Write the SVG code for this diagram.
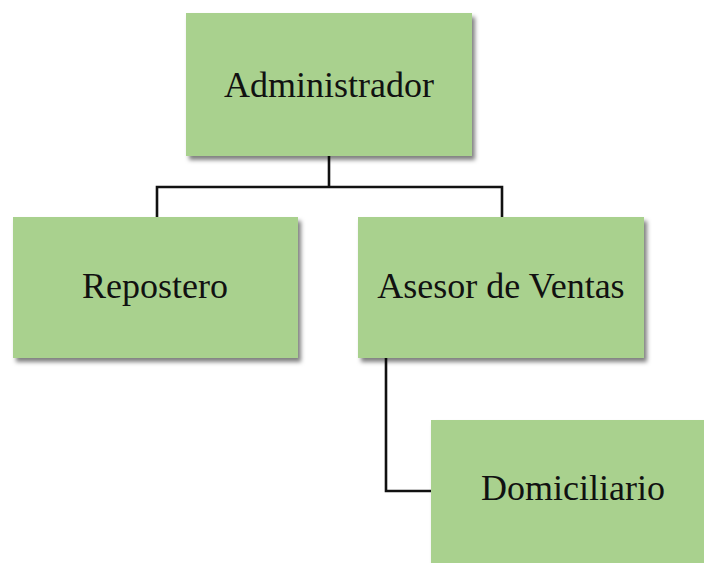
<svg xmlns="http://www.w3.org/2000/svg" width="704" height="563" viewBox="0 0 704 563">
  <style>
    .box { fill: #A9D18E; filter: url(#shadow); }
    .lbl { font-family: "Liberation Serif", "Times New Roman", serif; font-size: 36px; fill: #111; text-anchor: middle; }
    .conn { fill: none; stroke: #111; stroke-width: 2.6; }
  </style>
  <defs>
    <filter id="shadow" x="-10%" y="-10%" width="130%" height="130%">
      <feDropShadow dx="3" dy="4" stdDeviation="2.2" flood-color="#000" flood-opacity="0.5"/>
    </filter>
  </defs>
  <rect width="704" height="563" fill="#FFFFFF"/>
  <g id="connectors">
    <path class="conn" d="M329 156 V187 M157 217 V187 H502 V217"/>
    <path class="conn" d="M386 358 V491 H431"/>
  </g>
  <g id="administrador">
    <rect class="box" x="186" y="13" width="286" height="143"/>
    <text class="lbl" x="329" y="97">Administrador</text>
  </g>
  <g id="repostero">
    <rect class="box" x="13" y="217" width="285" height="141"/>
    <text class="lbl" x="155" y="298">Repostero</text>
  </g>
  <g id="asesor">
    <rect class="box" x="358" y="217" width="286" height="141"/>
    <text class="lbl" x="501" y="298">Asesor de Ventas</text>
  </g>
  <g id="domiciliario">
    <rect class="box" x="431" y="420" width="286" height="143"/>
    <text class="lbl" x="573" y="500">Domiciliario</text>
  </g>
</svg>
